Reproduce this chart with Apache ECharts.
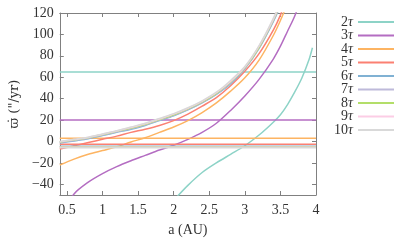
<!DOCTYPE html>
<html>
<head>
<meta charset="utf-8">
<script src="https://cdn.jsdelivr.net/npm/echarts@6/dist/echarts.min.js"></script>
<style>
  html, body { margin: 0; padding: 0; background: #fff; }
  #chart { width: 415px; height: 242px; }
</style>
</head>
<body>
<div id="chart"></div>
<script>
// 曲线的横坐标 (AU)
const aGrid = [0.4, 0.6, 0.8, 1.0, 1.2, 1.4, 1.6, 1.8, 2.0, 2.2, 2.4, 2.6, 2.8, 3.0, 3.2, 3.4, 3.5, 3.6, 3.7, 3.8, 3.9, 3.95];

const names = ["2τ", "3τ", "4τ", "5τ", "6τ", "7τ", "8τ", "9τ", "10τ"];
const colors = ["#8dd3c7", "#b46dc2", "#fdb462", "#fb8072", "#80b1d3", "#bebada", "#b3de69", "#fccde5", "#d9d9d9"];

// 各阶的曲线值
const curve2 = [null, null, null, null, null, null, null, null, -55, -41, -29, -20, -12, -4, 6, 18, 25, 34.5, 46, 59, 76, 87.5];
const curve3 = [-70, -49, -38, -30, -23.5, -18, -13, -8, -3.5, 2, 8.5, 17, 29, 42.5, 58, 77, 89, 103, 117, 135, null, null];
const curve4 = [-22, -16.5, -12, -8.5, -5, -0.5, 3.5, 8.5, 13.5, 19.5, 27, 36, 47, 59.5, 76, 99, 113, 129, null, null, null, null];
const curve5 = [-7, -4, -1, 2, 5, 8.5, 11.5, 15, 19.5, 25.5, 33, 41, 52, 65.5, 82, 104, 118, 136, null, null, null, null];
const curve6 = [-1.5, 0.5, 2.5, 5.5, 8.5, 11.5, 15, 19.5, 24, 29.5, 36, 44, 54, 68, 87, 112, 127, 146, null, null, null, null];
const curve7 = [-1, 1, 3, 6, 9, 12, 15.5, 20, 24.5, 30, 36.5, 44.5, 55, 68.5, 87.5, 113, 128, 147, null, null, null, null];
const curve8 = [-0.5, 1.5, 3.5, 6.5, 9.5, 12.5, 16, 20.5, 25, 30.5, 37, 45, 55.5, 69, 88, 113.5, 129, 148, null, null, null, null];
const curve9 = [-0.2, 1.8, 3.8, 6.8, 9.8, 13, 16.5, 21, 25.5, 31, 37.5, 45.5, 56, 69.5, 89, 114, 130, 149, null, null, null, null];
const curve10 = [0, 2, 4, 7, 10, 13.5, 17, 21.5, 26, 31.5, 38, 46, 57, 70, 89.5, 115, 131, 150, null, null, null, null];
const curves = [curve2, curve3, curve4, curve5, curve6, curve7, curve8, curve9, curve10];

// 水平线的值
const hLevels = [65, 20, 3, -2.5, -4.5, -5, -5.2, -5.5, -5.8];

const xTicks = [0.5, 1, 1.5, 2, 2.5, 3, 3.5, 4];
const yTicks = [-40, -20, 0, 20, 40, 60, 80, 100, 120];

const serif = "'Liberation Serif', 'DejaVu Serif', serif";
const textColor = "#333";
const axisColor = "#808080";

function toPairs(vals) {
  const out = [];
  for (let i = 0; i < aGrid.length; i++) {
    if (vals[i] !== null) out.push([aGrid[i], vals[i]]);
  }
  return out;
}

const series = [];
names.forEach((n, i) => {
  series.push({
    name: n, type: "line", showSymbol: false, smooth: 0.3,
    data: toPairs(curves[i]),
    lineStyle: { color: colors[i], width: 1.5 },
    itemStyle: { color: colors[i] },
    z: 2 + i
  });
  series.push({
    name: n, type: "line", showSymbol: false,
    data: [[0.4, hLevels[i]], [4, hLevels[i]]],
    lineStyle: { color: colors[i], width: 1.5 },
    itemStyle: { color: colors[i] },
    z: 2 + i
  });
});

const fmt = v => String(v).replace("-", "\u2212");

const xBase = {
  type: "value", min: 0.4, max: 4,
  axisLine: { onZero: false, lineStyle: { color: axisColor, width: 1 } },
  axisTick: { inside: true, length: 4, customValues: xTicks, lineStyle: { color: axisColor } },
  splitLine: { show: false }
};
const yBase = {
  type: "value", min: -50, max: 120,
  axisLine: { show: true, onZero: false, lineStyle: { color: axisColor, width: 1 } },
  axisTick: { show: true, inside: true, length: 4, customValues: yTicks, lineStyle: { color: axisColor } },
  splitLine: { show: false }
};

const chart = echarts.init(document.getElementById("chart"), null, { renderer: "canvas" });
chart.setOption({
  animation: false,
  backgroundColor: "#fff",
  grid: { left: 57, right: 99, top: 13, bottom: 44 },
  legend: {
    orient: "vertical", right: 16, top: 10, align: "right",
    itemWidth: 36, itemHeight: 2, itemGap: -0.5,
    icon: "rect",
    data: names,
    formatter: n => "{n|" + n.replace("τ", "") + "}{t|τ}",
    textStyle: {
      fontFamily: serif, fontSize: 14, color: textColor, lineHeight: 13.5,
      rich: {
        n: { fontFamily: serif, fontSize: 14, color: textColor, lineHeight: 13.5 },
        t: { fontFamily: serif, fontSize: 14, fontStyle: "italic", color: textColor, lineHeight: 13.5 }
      }
    }
  },
  xAxis: [
    Object.assign({}, xBase, {
      position: "bottom",
      name: "a (AU)", nameLocation: "middle", nameGap: 28,
      nameTextStyle: { fontFamily: serif, fontSize: 14, color: textColor },
      axisLabel: { customValues: xTicks, fontFamily: serif, fontSize: 14, color: textColor, margin: 8 }
    }),
    Object.assign({}, xBase, { position: "top", axisLabel: { show: false } })
  ],
  yAxis: [
    Object.assign({}, yBase, {
      position: "left",
      name: "ϖ̇ (\"/yr)", nameLocation: "middle", nameGap: 38, nameRotate: 90,
      nameTextStyle: { fontFamily: "'DejaVu Serif', serif", fontSize: 13, color: textColor },
      axisLabel: { customValues: yTicks, fontFamily: serif, fontSize: 14, color: textColor, margin: 6, formatter: fmt }
    }),
    Object.assign({}, yBase, { position: "right", axisLabel: { show: false } })
  ],
  series: series
});
</script>
</body>
</html>
